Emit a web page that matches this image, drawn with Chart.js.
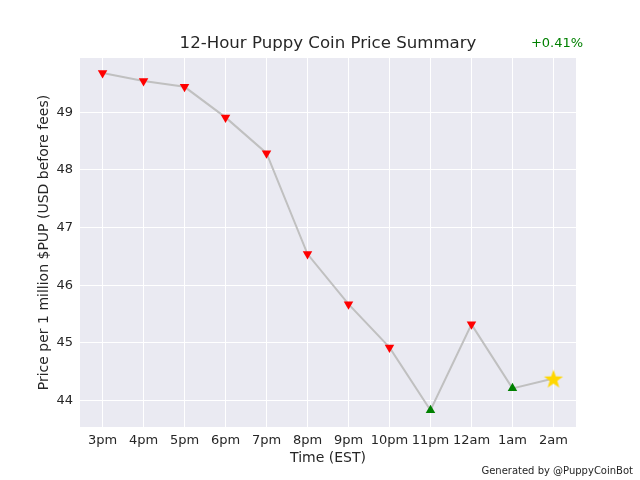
<!DOCTYPE html>
<html>
<head>
<meta charset="utf-8">
<script src="https://cdn.jsdelivr.net/npm/chart.js@4"></script>
<style>
  html, body { margin: 0; padding: 0; background: #fff; }
  #wrap { width: 640px; height: 480px; }
</style>
</head>
<body>
<div id="wrap"><canvas id="graph" width="640" height="480"></canvas></div>
<script>
// data
var hours  = ['3pm', '4pm', '5pm', '6pm', '7pm', '8pm', '9pm', '10pm', '11pm', '12am', '1am', '2am'];
var prices = [49.68, 49.54, 49.44, 48.91, 48.29, 46.54, 45.67, 44.92, 43.83, 45.32, 44.21, 44.38];
var yTicks = [44, 45, 46, 47, 48, 49];
var change = '+0.41%';

var FONT = 'DejaVu Sans';
var TEXT = '#262626';

// gold star for the latest price
function makeStar(size, color) {
    var c = document.createElement('canvas');
    c.width = size; c.height = size;
    var g = c.getContext('2d');
    var cx = size / 2, cy = size / 2 + 1, R = size / 2 - 1, r = R * 0.4;
    g.beginPath();
    for (var i = 0; i < 10; i++) {
        var a = -Math.PI / 2 + i * Math.PI / 5;
        var rad = i % 2 ? r : R;
        g.lineTo(cx + rad * Math.cos(a), cy + rad * Math.sin(a));
    }
    g.closePath();
    g.fillStyle = color;
    g.fill();
    return c;
}
var star = makeStar(22, '#FFD700');

// marker shows where the price goes next hour
var points = [], styles = [], colors = [], rotations = [], radii = [];
for (var i = 0; i < prices.length; i++) {
    points.push({ x: i, y: prices[i] });
    if (i == prices.length - 1) {
        styles.push(star); colors.push('#FFD700'); rotations.push(0); radii.push(11);
    } else if (prices[i + 1] > prices[i]) {
        styles.push('triangle'); colors.push('#008000'); rotations.push(0); radii.push(5.5);
    } else {
        styles.push('triangle'); colors.push('#FF0000'); rotations.push(180); radii.push(5.5);
    }
}

var decor = {
    id: 'decor',
    beforeDraw: function (chart) {
        var ctx = chart.ctx, a = chart.chartArea;
        ctx.save();
        ctx.fillStyle = '#EAEAF2';
        ctx.fillRect(a.left, a.top, a.right - a.left, a.bottom - a.top);
        ctx.restore();
    },
    afterDraw: function (chart) {
        var ctx = chart.ctx, a = chart.chartArea;
        ctx.save();
        ctx.textAlign = 'center';
        ctx.textBaseline = 'middle';
        ctx.fillStyle = TEXT;
        ctx.font = '16.6px "' + FONT + '"';
        ctx.fillText('12-Hour Puppy Coin Price Summary', (a.left + a.right) / 2, 44);
        ctx.fillStyle = '#008000';
        ctx.font = '13px "' + FONT + '"';
        ctx.fillText(change, 557, 44);
        ctx.fillStyle = TEXT;
        ctx.font = '14px "' + FONT + '"';
        ctx.fillText('Time (EST)', (a.left + a.right) / 2, 458);
        ctx.save();
        ctx.translate(44, (a.top + a.bottom) / 2);
        ctx.rotate(-Math.PI / 2);
        ctx.fillText('Price per 1 million $PUP (USD before fees)', 0, 0);
        ctx.restore();
        ctx.textAlign = 'right';
        ctx.font = '10px "' + FONT + '"';
        ctx.fillText('Generated by @PuppyCoinBot', 633, 471);
        ctx.restore();
    }
};

new Chart(document.getElementById('graph').getContext('2d'), {
    type: 'line',
    data: {
        datasets: [{
            data: points,
            borderColor: '#C0C0C0',
            borderWidth: 2,
            tension: 0,
            pointStyle: styles,
            pointRotation: rotations,
            pointRadius: radii,
            pointBackgroundColor: colors,
            pointBorderColor: colors,
            pointBorderWidth: 0,
        }]
    },
    options: {
        responsive: false,
        animation: false,
        layout: { padding: { top: 58, right: 64, left: 0, bottom: 0 } },
        plugins: { legend: { display: false }, tooltip: { enabled: false } },
        scales: {
            x: {
                type: 'linear',
                min: -0.55,
                max: 11.55,
                afterFit: function (s) { s.height = 53; },
                afterBuildTicks: function (s) {
                    s.ticks = hours.map(function (h, i) { return { value: i }; });
                },
                ticks: {
                    padding: 6,
                    color: TEXT,
                    font: { family: FONT, size: 13 },
                    maxRotation: 0,
                    autoSkip: false,
                    callback: function (v) { return hours[v]; }
                },
                grid: { color: '#FFFFFF', lineWidth: 1, drawTicks: false },
                border: { display: false }
            },
            y: {
                min: 43.54,
                max: 49.94,
                afterFit: function (s) { s.width = 80; },
                afterBuildTicks: function (s) {
                    s.ticks = yTicks.map(function (v) { return { value: v }; });
                },
                ticks: {
                    padding: 7,
                    color: TEXT,
                    font: { family: FONT, size: 13 }
                },
                grid: { color: '#FFFFFF', lineWidth: 1, drawTicks: false },
                border: { display: false }
            }
        }
    },
    plugins: [decor]
});
</script>
</body>
</html>
